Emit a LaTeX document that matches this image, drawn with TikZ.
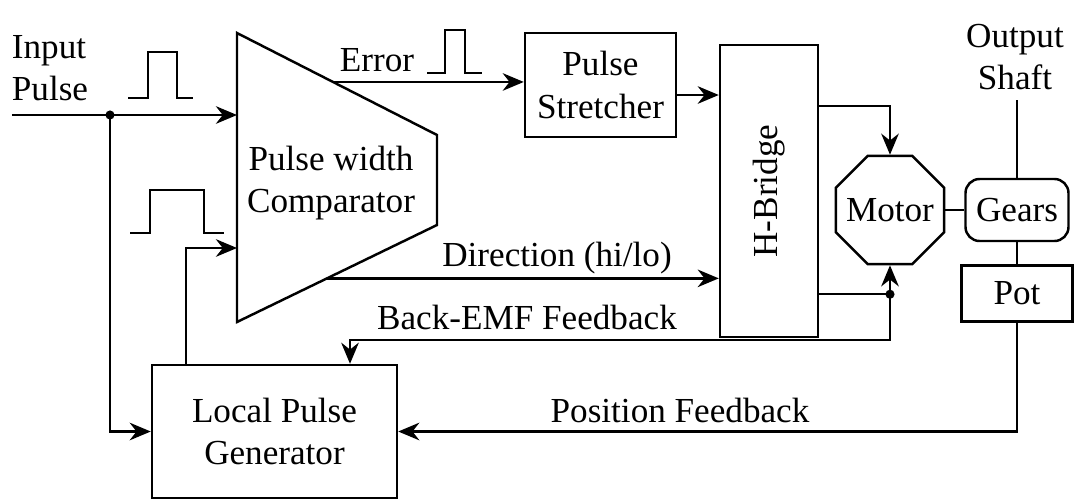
\documentclass[tikz,border=0pt]{standalone}
\usepackage{fontspec}
\setmainfont{Liberation Serif}
\usepackage{tikz}
\usetikzlibrary{arrows.meta,positioning,shapes.geometric,calc}
\tikzset{>/.tip={Stealth[length=6pt,width=5pt]}}
\tikzset{box/.style={draw,align=center,inner sep=2pt}}

\begin{document}
\begin{tikzpicture}[line width=0.7pt, node distance=1em and 3em]
      \useasboundingbox (0,0) rectangle (10.74,-5.02);

      \node[align=left](inlbl) at (0.50,-0.68){Input\\Pulse};
      \node[box,minimum width=1.51cm,minimum height=1.04cm](ps) at (6.005,-0.85){Pulse\\Stretcher};
      \node[box,minimum width=0.98cm,minimum height=2.92cm](hb) at (7.69,-1.91){\rotatebox{90}{H-Bridge}};
      \node[box,minimum width=2.45cm,minimum height=1.33cm](lpg) at (2.745,-4.315){Local Pulse\\Generator};
      \node[box,rounded corners=4pt,minimum width=1.03cm,minimum height=0.62cm](gears) at (10.17,-2.10){Gears};
      \node[draw,regular polygon,regular polygon sides=8,inner sep=0pt,minimum size=1.17cm,
            label=center:Motor,left=0.19cm of gears](motor){};
      \node[box,minimum width=1.11cm,minimum height=0.56cm,below=0.22cm of gears](pot){Pot};
      \node[align=center](outlbl) at (10.15,-0.57){Output\\Shaft};

      % comparator
      \coordinate (ctl) at (2.37,-0.33);
      \coordinate (ctr) at (4.37,-1.35);
      \coordinate (cbr) at (4.37,-2.25);
      \coordinate (cbl) at (2.37,-3.22);
      \draw (ctl) -- (ctr) -- (cbr) -- (cbl) -- cycle;
      \node[align=center](cmp) at (3.31,-1.83){Pulse width\\Comparator};

      \coordinate (instart) at (0.12,-1.15);
      \coordinate (indot) at (1.10,-1.15);
      \coordinate (cin2) at (2.37,-2.48);
      \coordinate (err) at ($(ctl)!0.48!(ctr)$);
      \coordinate (dir) at ($(cbr)!0.55!(cbl)$);
      \coordinate (hbout) at ([yshift=0.44cm]hb.south east);
      \coordinate (mdot) at (hbout -| motor.south);
      \coordinate (bemf) at (3.50,-3.40);
      \coordinate (shaft) at (10.17,-1.00);

      \node(errlbl) at (3.77,-0.60){Error};
      \node(dirlbl) at (5.57,-2.58){Direction (hi/lo)};
      \node(bemflbl) at (5.27,-3.17){Back-EMF Feedback};
      \node(poslbl) at (6.80,-4.10){Position Feedback};

      % pulses
      \draw (1.28,-0.98) -- ++(0.20,0) -- ++(0,0.46) -- ++(0.29,0) -- ++(0,-0.46) -- ++(0.16,0);
      \draw (1.30,-2.33) -- ++(0.20,0) -- ++(0,0.43) -- ++(0.54,0) -- ++(0,-0.43) -- ++(0.20,0);
      \draw (4.27,-0.73) -- ++(0.18,0) -- ++(0,0.43) -- ++(0.20,0) -- ++(0,-0.43) -- ++(0.17,0);

      \draw (instart) -- (indot);
      \draw[->] (indot) -- (indot -| ctl);
      \draw[->] (indot) |- (lpg.west);
      \draw[->] ([xshift=0.35cm]lpg.north west) |- (cin2);
      \draw[->] (err) -- (err -| ps.west);
      \draw[->] ([yshift=-1mm]ps.east) -- ([yshift=-1mm]ps.east -| hb.west);
      \draw[->] (dir) -- (dir -| hb.west);
      \draw[->] ([yshift=-0.62cm]hb.north east) -| (motor.north);
      \draw (hbout) -- (mdot);
      \draw[->] (mdot) -- (motor.south);
      \draw[->] (mdot) |- (bemf) -- (bemf |- lpg.north);
      \draw[->] (pot.south) |- (lpg.east);
      \draw (motor.east) -- (gears.west);
      \draw (gears.south) -- (pot.north);
      \draw (gears.north) -- (shaft);
      \fill (indot) circle (1.3pt);
      \fill (mdot) circle (1.3pt);
    \end{tikzpicture}
\end{document}
